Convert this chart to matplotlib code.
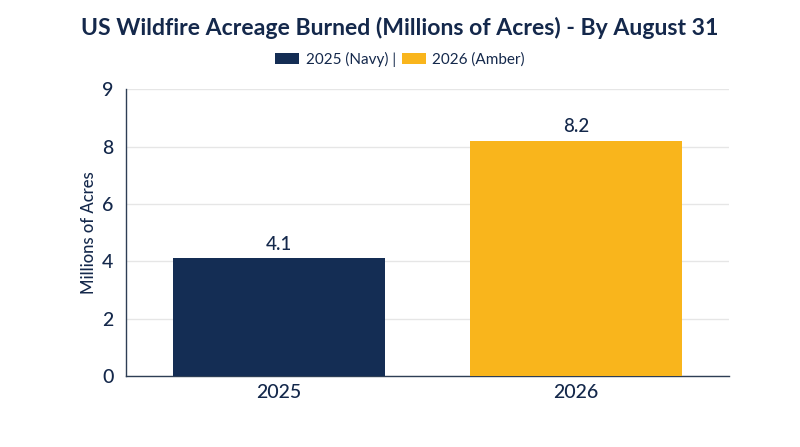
import matplotlib
matplotlib.use("Agg")
import matplotlib.pyplot as plt
from matplotlib.patches import Patch

categories = ["2025", "2026"]
values = [4.1, 8.2]
colors = ["#142D54", "#F9B51C"]
legend_labels = ["2025 (Navy) |", "2026 (Amber)"]
ytick_vals = [0, 2, 4, 6, 8, 10]
ytick_labels = ["0", "2", "4", "6", "8", "9"]

TEXT = "#14284B"
plt.rcParams['font.family'] = ['Lato', 'DejaVu Sans']

fig = plt.figure(figsize=(8, 4.47), dpi=100)
ax = fig.add_axes([0.1575, 0.1588, 0.911 - 0.1575, 0.8002 - 0.1588])

x = list(range(len(categories)))
bars = ax.bar(x, values, width=0.715, color=colors, zorder=3)
for xi, v in zip(x, values):
    ax.text(xi, v + 0.2, f"{v}", ha="center", va="bottom", fontsize=13.5,
            color=TEXT, fontweight="medium")

ax.set_xlim(-0.516, 1.514)
ax.set_ylim(0, 10)
ax.set_yticks(ytick_vals)
ax.set_yticklabels(ytick_labels)
ax.set_xticks(x)
ax.set_xticklabels(categories)
ax.tick_params(axis="both", length=0, labelsize=14, colors=TEXT)
for lab in ax.get_xticklabels() + ax.get_yticklabels():
    lab.set_fontweight("medium")
ax.tick_params(axis="y", pad=9)
ax.tick_params(axis="x", pad=6)
ax.yaxis.grid(True, color="#E6E6E6", linewidth=1.0, zorder=0)
ax.set_axisbelow(True)
for s in ["top", "right"]:
    ax.spines[s].set_visible(False)
for s in ["left", "bottom"]:
    ax.spines[s].set_color("#2E3E55")
    ax.spines[s].set_linewidth(1.0)
ax.set_ylabel("Millions of Acres", fontsize=12, color=TEXT, labelpad=4,
              fontweight="medium")

fig.suptitle("US Wildfire Acreage Burned (Millions of Acres) - By August 31",
             y=0.962, fontsize=16.6, fontweight="bold", color=TEXT)

handles = [Patch(facecolor=c) for c in colors]
fig.legend(handles, legend_labels, loc="center", bbox_to_anchor=(0.5, 0.868),
           ncol=2, frameon=False, fontsize=11, labelcolor=TEXT,
           handlelength=1.6, handleheight=0.75, handletextpad=0.4,
           columnspacing=0.4)

fig.savefig("out.png", dpi=100)
